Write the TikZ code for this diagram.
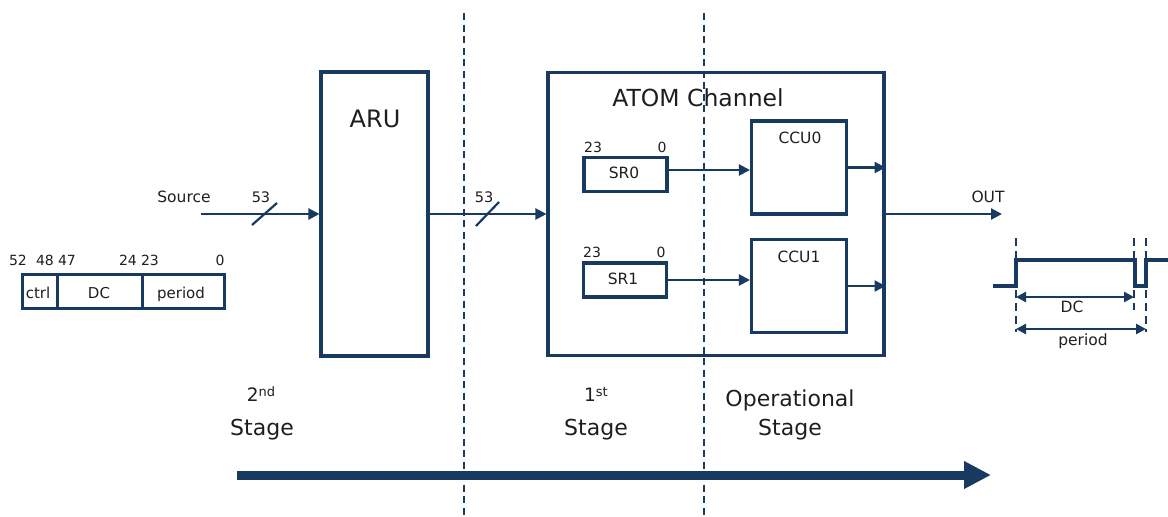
\documentclass[tikz,border=0pt]{standalone}
\usepackage{fontspec}
\setmainfont{DejaVu Sans}
\usetikzlibrary{arrows.meta}
\definecolor{navy}{RGB}{24,58,96}
\definecolor{txt}{RGB}{30,30,30}
\begin{document}
\begin{tikzpicture}[x=1pt,y=-1pt,
  box/.style={draw=navy, line width=3.1pt, inner sep=0pt, line join=miter},
  cell/.style={draw=navy, line width=3pt, inner sep=0pt, minimum height=34pt},
  conn/.style={draw=navy, line width=2.3pt, -{Triangle[length=11pt,width=11pt]}},
  slash/.style={draw=navy, line width=2.2pt},
  divider/.style={draw=navy, line width=2pt, dash pattern=on 7pt off 4.5pt},
  guide/.style={draw=navy, line width=1.7pt, dash pattern=on 8pt off 5pt},
  dim/.style={draw=navy, line width=2.6pt, {Triangle[length=10pt,width=10pt]}-{Triangle[length=10pt,width=10pt]}},
  lbl/.style={text=txt, inner sep=0pt, anchor=base, font=\fontsize{#1}{#1}\selectfont},
]
\useasboundingbox (0,0) rectangle (1168,517);

% stage dividers
\draw[divider] (464,13) -- (464,517);
\draw[divider] (704,13) -- (704,517);

% ARU
\node[box, minimum width=107pt, minimum height=284pt] (aru) at (374.5,214) {};
\node[lbl=24] (arut) at (375,127) {ARU};

% ATOM channel
\node[box, minimum width=336pt, minimum height=283pt] (atom) at (716,214) {};
\node[lbl=23.5] (atomt) at (698,106) {ATOM Channel};

% shadow registers
\node[box, minimum width=83pt, minimum height=34pt] (sr0) at (625.5,174.5) {};
\node[lbl=15.5] (sr0t) at (624,178.5) {SR0};
\node[lbl=14] (sr0h) at (593,152) {23};
\node[lbl=14] (sr0l) at (662,152) {0};
\node[box, minimum width=83pt, minimum height=34pt] (sr1) at (625,280) {};
\node[lbl=15.5] (sr1t) at (623,284.5) {SR1};
\node[lbl=14] (sr1h) at (592,257) {23};
\node[lbl=14] (sr1l) at (661,257) {0};

% CCUs
\node[box, minimum width=95pt, minimum height=93pt] (ccu0) at (799,167.5) {};
\node[lbl=15.5] (ccu0t) at (800,143) {CCU0};
\node[box, minimum width=95pt, minimum height=93.5pt] (ccu1) at (799,286) {};
\node[lbl=15.5] (ccu1t) at (799,262) {CCU1};

\draw[conn] ([yshift=4.5pt]sr0.east) -- ([yshift=4.5pt]sr0.east -| ccu0.west);
\draw[conn] (sr1.east) -- (sr1.east -| ccu1.west);
\draw[conn] (ccu0.east) -- (ccu0.east -| atom.east);
\draw[conn] (ccu1.east) -- (ccu1.east -| atom.east);

% source input
\coordinate (srcin) at (201,214);
\node[lbl=15.5] (srct) at (184,202) {Source};
\node[lbl=14.5] (w1) at (261,202) {53};
\draw[conn] (srcin) -- (aru.west);
\draw[slash] (252,225) -- (277,203);

% ARU to ATOM
\node[lbl=14.5] (w2) at (484,202) {53};
\draw[conn] (aru.east) -- (atom.west);
\draw[slash] (476,226) -- (499,202);

% output
\coordinate (outend) at (1002,214);
\node[lbl=15.5] (outt) at (988,202) {OUT};
\draw[conn] (atom.east) -- (outend);

% bit field
\node[cell, minimum width=34.5pt] (ctrl) at (39.75,291) {};
\node[cell, minimum width=85pt] (dcf) at (99.5,291) {};
\node[cell, minimum width=82.5pt] (perf) at (183.25,291) {};
\node[lbl=15] (ctrlt) at (38,298) {ctrl};
\node[lbl=15] (dct) at (99,298) {DC};
\node[lbl=15] (pert) at (181,298) {period};
\node[lbl=14] (b52) at (18,265) {52};
\node[lbl=14] (b48) at (45,265) {48};
\node[lbl=14] (b47) at (67,265) {47};
\node[lbl=14] (b24) at (128,265) {24};
\node[lbl=14] (b23) at (150,265) {23};
\node[lbl=14] (b0) at (220,265) {0};

% waveform
\draw[guide] (1016,238) -- (1016,332);
\draw[guide] (1134,238) -- (1134,310);
\draw[guide] (1146,238) -- (1146,332);
\draw[navy, line width=4.2pt, line join=miter] (993,286) -- (1016,286) -- (1016,260) -- (1135,260) -- (1135,286) -- (1146,286) -- (1146,260) -- (1168,260);
\draw[dim] (1016,297) -- (1134,297);
\draw[dim] (1016,329) -- (1146,329);
\node[lbl=15.5] (wdc) at (1072,312) {DC};
\node[lbl=15.5] (wper) at (1083,345) {period};

% stages
\node[lbl=18.5] (s2a) at (261,401) {2\raisebox{4.5pt}{\fontsize{13}{13}\selectfont nd}};
\node[lbl=22] (s2b) at (262,435) {Stage};
\node[lbl=18.5] (s1a) at (596,401) {1\raisebox{4.5pt}{\fontsize{13}{13}\selectfont st}};
\node[lbl=22] (s1b) at (596,435) {Stage};
\node[lbl=22] (s0a) at (790,406) {Operational};
\node[lbl=22] (s0b) at (790,435) {Stage};

% flow arrow
\coordinate (fa) at (237,475);
\coordinate (fb) at (991,475);
\draw[navy, line width=9pt, -{Triangle[length=27pt,width=26pt]}] (fa) -- (fb);
\end{tikzpicture}
\end{document}
